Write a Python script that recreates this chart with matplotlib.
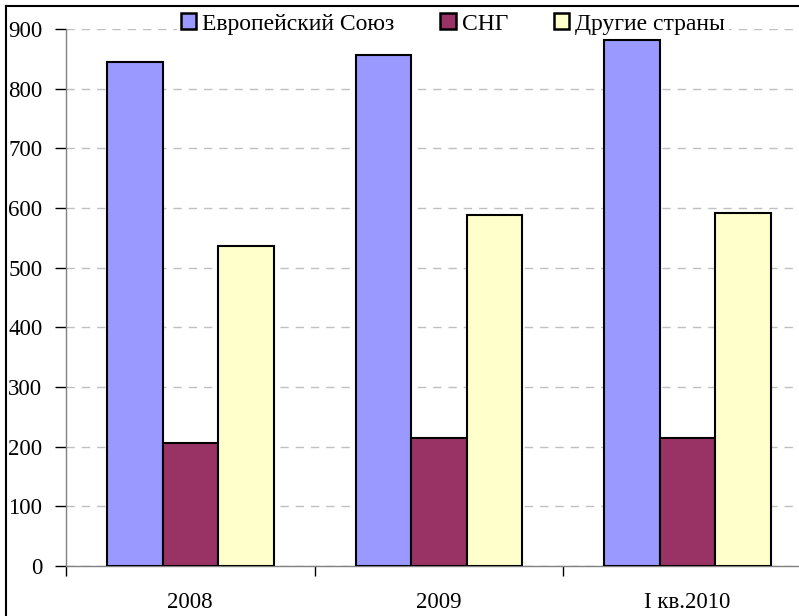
import matplotlib.pyplot as plt
from matplotlib.lines import Line2D
import numpy as np

plt.rcParams['font.family'] = ['Liberation Serif', 'DejaVu Serif']

# данные
categories = ['2008', '2009', 'I кв.2010']
series = ['Европейский Союз', 'СНГ', 'Другие страны']
eu = [844, 857, 882]
sng = [206, 214, 214]
other = [537, 588, 591]
colors = ['#9999FF', '#993366', '#FFFFCC']

fig = plt.figure(figsize=(7.99, 6.16), dpi=100)
ax = fig.add_axes([66 / 799, 50 / 616, 745.5 / 799, 537 / 616])

x = np.arange(len(categories))
w = 55.5 / 248.5
for i, (vals, name) in enumerate(zip([eu, sng, other], series)):
    ax.bar(x + (i - 1) * w, vals, width=w, color=colors[i], edgecolor='black',
           linewidth=1.5, label=name, zorder=3)

ax.set_xlim(-0.5, 2.5)
ax.set_ylim(0, 900)
ax.set_yticks(range(0, 901, 100))
ax.yaxis.grid(True, color='#c0c0c0', linestyle=(0, (6, 5)), linewidth=1, zorder=0)

ax.set_xticks([-0.5, 0.5, 1.5, 2.5])
ax.set_xticklabels([])
ax.set_xticks(x, minor=True)
ax.set_xticklabels(categories, minor=True, fontsize=16.5)
ax.tick_params(axis='x', which='minor', length=0, pad=19)
ax.tick_params(axis='x', which='major', direction='out', length=7, width=1, color='black')
ax.tick_params(axis='y', direction='out', length=8, width=1, labelsize=16.5, pad=9, color='black')

for s in ['top', 'right']:
    ax.spines[s].set_visible(False)
for s in ['left', 'bottom']:
    ax.spines[s].set_color('#808080')
    ax.spines[s].set_linewidth(1)

leg = fig.legend(loc='center', bbox_to_anchor=(453 / 799, 1 - 24 / 616), ncol=3,
                 fontsize=17, frameon=True, handlelength=0.65, handleheight=0.65,
                 handletextpad=0.25, columnspacing=1.95, borderpad=0.15)
leg.get_frame().set_facecolor('white')
leg.get_frame().set_edgecolor('none')
leg.get_frame().set_alpha(1)
for p in leg.get_patches():
    p.set_linewidth(1.8)

# рамка
fig.add_artist(Line2D([6 / 799, 6 / 799], [0, 1 - 6 / 616], color='black', linewidth=1.5))
fig.add_artist(Line2D([6 / 799, 1], [1 - 6 / 616, 1 - 6 / 616], color='black', linewidth=1.5))

fig.savefig('out.png', dpi=100)
